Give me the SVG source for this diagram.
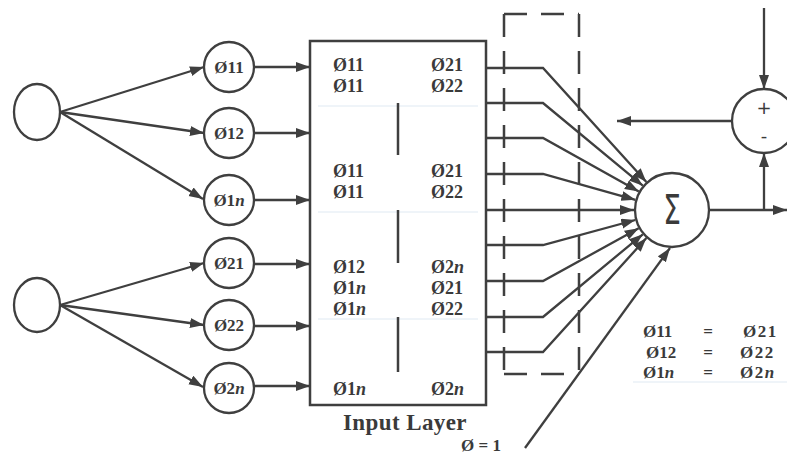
<svg xmlns="http://www.w3.org/2000/svg" width="787" height="457" viewBox="0 0 787 457">
<defs>
<marker id="ah" markerUnits="userSpaceOnUse" markerWidth="15" markerHeight="11" refX="14" refY="5" orient="auto">
<path d="M0,0 L14,5 L0,10 z" fill="#3f3f3f"/>
</marker>
<style>
.ln{stroke:#3f3f3f;stroke-width:2.5;fill:none}
.ar{stroke:#3f3f3f;stroke-width:2.3;fill:none;marker-end:url(#ah)}
.nd{stroke:#3f3f3f;stroke-width:2.3;fill:#fff}
.t{font-family:"Liberation Serif","Times New Roman",serif;font-weight:bold;font-size:18px;fill:#3a3a3a}
.s{font-size:17px}
.big{font-size:23px;letter-spacing:0.4px}
.c{text-anchor:middle}
.i{font-style:italic}
.sep{stroke:#dfe9f2;stroke-width:1}
.dash{stroke:#3f3f3f;stroke-width:2.5;fill:none;stroke-dasharray:23 14}
.sans{font-family:"DejaVu Sans","Liberation Sans",sans-serif;fill:#3a3a3a}
.wide{letter-spacing:1.5px}
</style>
</defs>
<rect width="787" height="457" fill="#fff"/>

<g id="connectors">
<line class="ar" x1="60" y1="112" x2="204" y2="67"/>
<line class="ar" x1="60" y1="112" x2="204" y2="133"/>
<line class="ar" x1="60" y1="112" x2="203" y2="199"/>
<line class="ar" x1="60" y1="305" x2="204" y2="263"/>
<line class="ar" x1="60" y1="305" x2="204" y2="325"/>
<line class="ar" x1="60" y1="305" x2="203" y2="387"/>
<line class="ar" x1="254" y1="67" x2="310" y2="67"/>
<line class="ar" x1="254" y1="133" x2="310" y2="133"/>
<line class="ar" x1="254" y1="200" x2="310" y2="200"/>
<line class="ar" x1="254" y1="264" x2="310" y2="264"/>
<line class="ar" x1="254" y1="326" x2="310" y2="326"/>
<line class="ar" x1="254" y1="386" x2="310" y2="386"/>
<polyline class="ar" points="486,68 543,68 646.4,181.9"/>
<polyline class="ar" points="486,103 543,103 642.8,185.7"/>
<polyline class="ar" points="486,138 543,138 638.8,191.5"/>
<polyline class="ar" points="486,174 543,174 635.4,199.8"/>
<polyline class="ar" points="486,210 634,210"/>
<polyline class="ar" points="486,245 543,245 635.3,220"/>
<polyline class="ar" points="486,281 543,281 638.7,228.3"/>
<polyline class="ar" points="486,317 543,317 642.8,234.3"/>
<polyline class="ar" points="486,352 543,352 646.4,238.1"/>
<line class="ar" x1="525" y1="448" x2="670" y2="248"/>
<line class="ar" x1="709" y1="210" x2="787" y2="210"/>
<line class="ar" x1="764" y1="210" x2="764" y2="153"/>
<line class="ar" x1="764" y1="8" x2="764" y2="89"/>
<line class="ar" x1="732" y1="121" x2="617" y2="121"/>
</g>

<g id="input1"><ellipse class="nd" cx="37" cy="112" rx="23" ry="28"/></g>
<g id="input2"><ellipse class="nd" cx="37" cy="305" rx="23" ry="27"/></g>

<g id="n11"><circle class="nd" cx="229" cy="67" r="25"/><text class="t s c" x="229" y="73">Ø11</text></g>
<g id="n12"><circle class="nd" cx="229" cy="133" r="25"/><text class="t s c" x="229" y="139">Ø12</text></g>
<g id="n1n"><circle class="nd" cx="229" cy="200" r="25"/><text class="t s c" x="229" y="206">Ø1<tspan class="i">n</tspan></text></g>
<g id="n21"><circle class="nd" cx="229" cy="263" r="25"/><text class="t s c" x="229" y="269">Ø21</text></g>
<g id="n22"><circle class="nd" cx="229" cy="325" r="25"/><text class="t s c" x="229" y="331">Ø22</text></g>
<g id="n2n"><circle class="nd" cx="229" cy="388" r="25"/><text class="t s c" x="229" y="394">Ø2<tspan class="i">n</tspan></text></g>

<g id="inputLayer">
<rect x="310" y="41" width="176" height="364" fill="#fff" stroke="#3f3f3f" stroke-width="2.5"/>
<line class="sep" x1="318" y1="106" x2="478" y2="106"/>
<line class="sep" x1="318" y1="212" x2="478" y2="212"/>
<line class="sep" x1="318" y1="319" x2="478" y2="319"/>
<line class="ln" x1="398" y1="103" x2="398" y2="155"/>
<line class="ln" x1="398" y1="210" x2="398" y2="263"/>
<line class="ln" x1="398" y1="317" x2="398" y2="372"/>
<text class="t" x="333" y="71">Ø11</text>
<text class="t" x="333" y="92">Ø11</text>
<text class="t" x="431" y="71">Ø21</text>
<text class="t" x="431" y="92">Ø22</text>
<text class="t" x="333" y="177">Ø11</text>
<text class="t" x="333" y="198">Ø11</text>
<text class="t" x="431" y="177">Ø21</text>
<text class="t" x="431" y="198">Ø22</text>
<text class="t" x="333" y="273">Ø12</text>
<text class="t" x="333" y="294">Ø1<tspan class="i">n</tspan></text>
<text class="t" x="333" y="315">Ø1<tspan class="i">n</tspan></text>
<text class="t" x="431" y="273">Ø2<tspan class="i">n</tspan></text>
<text class="t" x="431" y="294">Ø21</text>
<text class="t" x="431" y="315">Ø22</text>
<text class="t" x="333" y="395">Ø1<tspan class="i">n</tspan></text>
<text class="t" x="431" y="395">Ø2<tspan class="i">n</tspan></text>
<text class="t big" x="343" y="430">Input Layer</text>
</g>

<g id="dashedBox">
<line class="dash" x1="504" y1="14" x2="579" y2="14"/>
<line class="dash" x1="504" y1="374" x2="579" y2="374"/>
<line class="dash" x1="504" y1="14" x2="504" y2="374"/>
<line class="dash" x1="579" y1="14" x2="579" y2="374"/>
</g>

<g id="sum">
<circle class="nd" cx="672" cy="210" r="37"/>
<text class="sans" transform="translate(672,224) scale(0.7,1)" text-anchor="middle" font-size="40">Σ</text>
</g>

<g id="error">
<circle class="nd" cx="764" cy="121" r="32"/>
<text class="sans" x="764" y="114" text-anchor="middle" font-size="18">+</text>
<text class="sans" x="764" y="142" text-anchor="middle" font-size="18">-</text>
</g>

<g id="bias"><text class="t s" x="461" y="451">Ø = 1</text></g>

<g id="equivTable">
<line class="sep" x1="633" y1="382" x2="787" y2="382"/>
<text class="t s" x="643" y="337">Ø11</text>
<text class="t s c" x="708" y="337">=</text>
<text class="t s wide" x="743" y="337">Ø21</text>
<text class="t s" x="646" y="358">Ø12</text>
<text class="t s c" x="708" y="358">=</text>
<text class="t s wide" x="740" y="358">Ø22</text>
<text class="t s" x="643" y="378">Ø1<tspan class="i">n</tspan></text>
<text class="t s c" x="708" y="378">=</text>
<text class="t s wide" x="740" y="378">Ø2<tspan class="i">n</tspan></text>
</g>
</svg>
